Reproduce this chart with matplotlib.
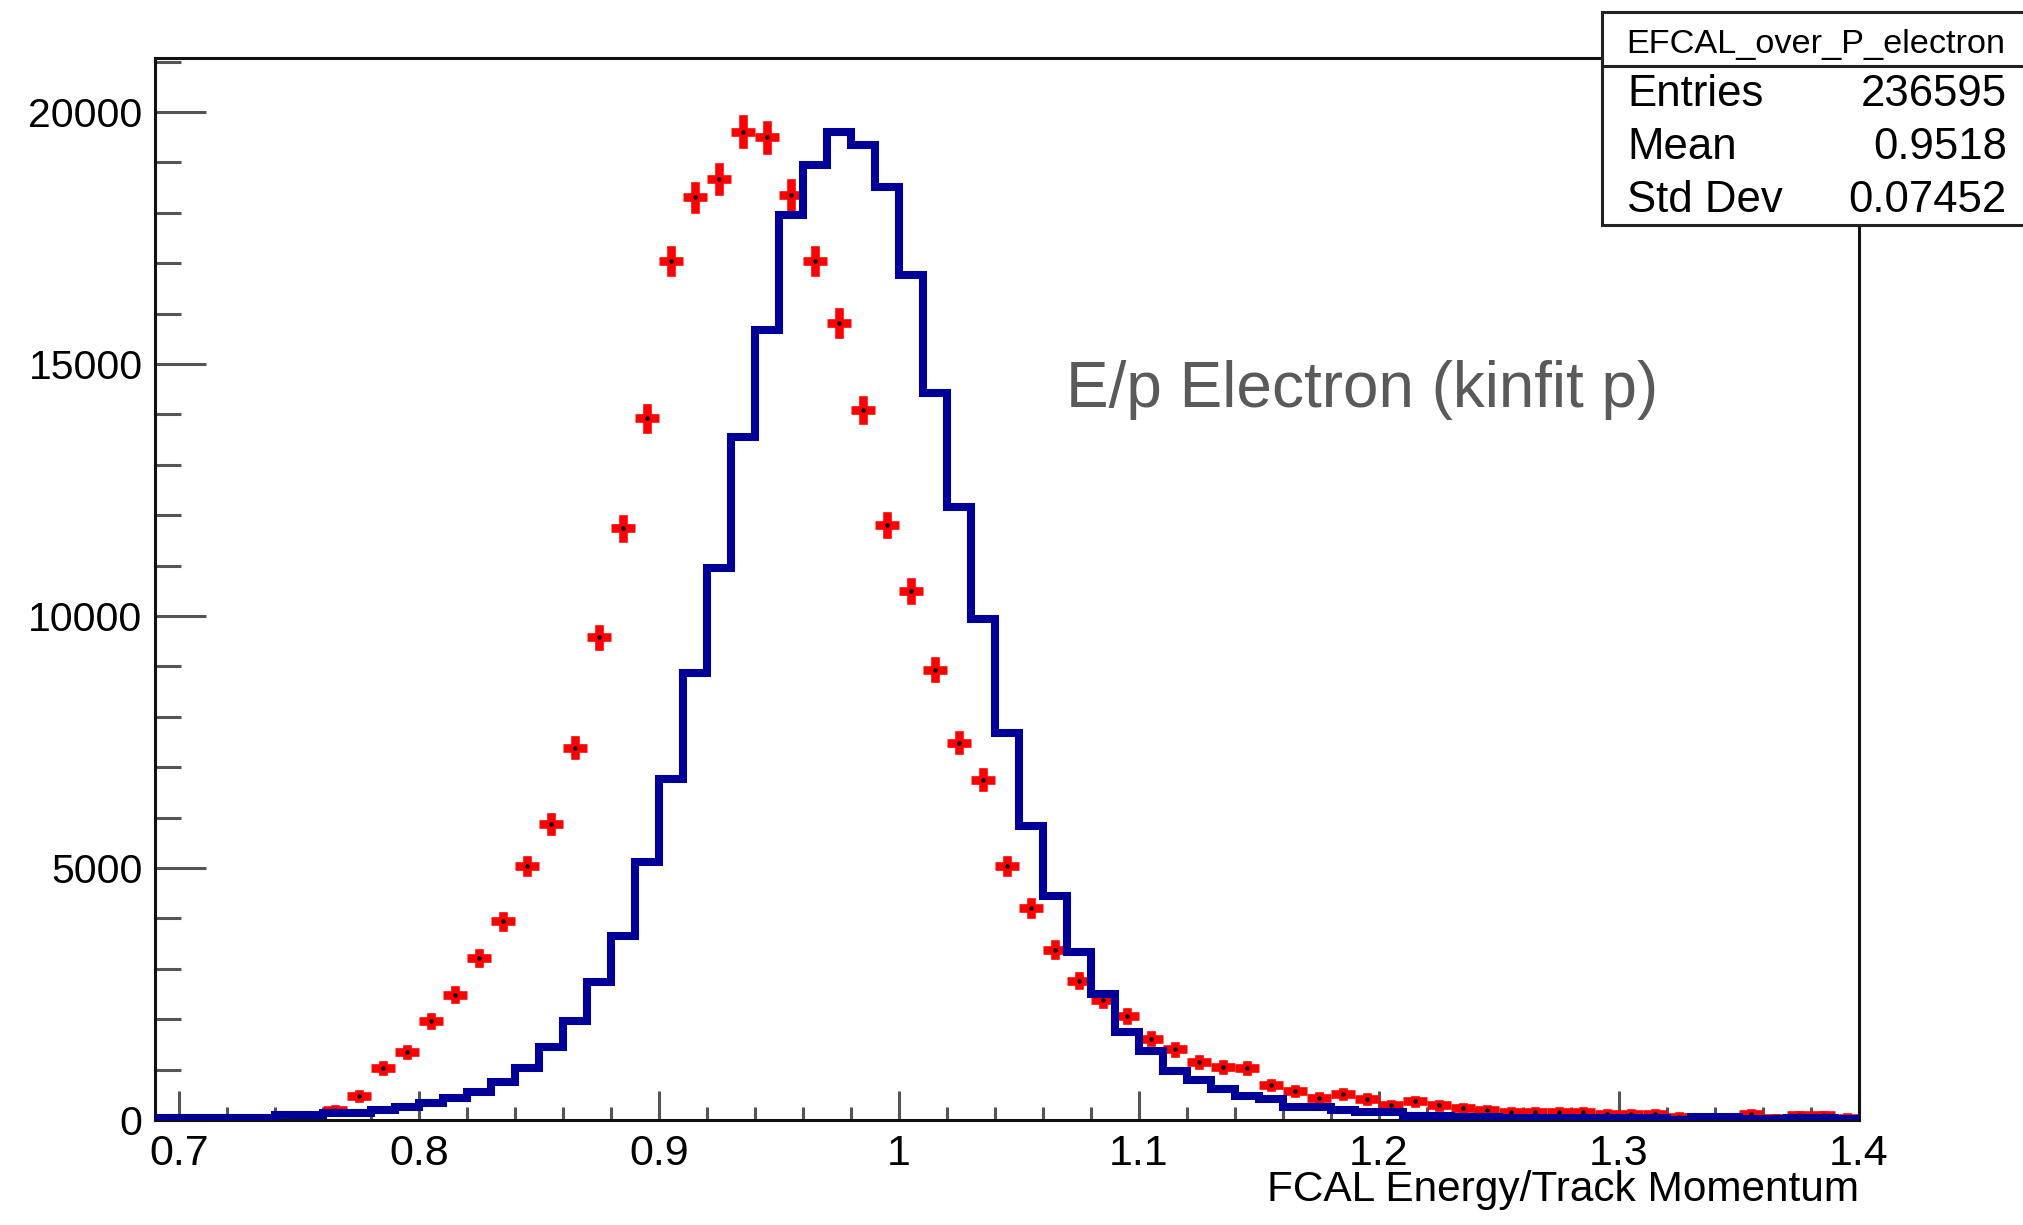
import matplotlib

matplotlib.use("Agg")
import matplotlib.pyplot as plt
import numpy as np
from matplotlib.patches import Rectangle
from matplotlib.ticker import FuncFormatter, MultipleLocator

plt.rcParams["font.family"] = ["Liberation Sans", "DejaVu Sans"]

# binning of both histograms: 0.01 wide bins from 0.69 to 1.40
BIN_LO = 0.69
BIN_W = 0.01

# blue histogram (drawn as steps), one value per bin
blue_counts = [
    30, 30, 30, 30, 30, 90, 90, 140, 145, 198,
    264, 330, 430, 565, 755, 1030, 1450, 1956, 2736, 3642,
    5109, 6774, 8864, 10950, 13557, 15674, 17955, 18947, 19608, 19344,
    18517, 16765, 14418, 12170, 9948, 7674, 5831, 4436, 3337, 2498,
    1754, 1360, 980, 790, 610, 470, 425, 255, 250, 198,
    165, 150, 80, 79, 66, 53, 35, 35, 33, 33,
    30, 30, 30, 5, 50, 50, 10, 10, 30, 30,
    20,
]

# red points with error bars, one value per bin (0 = empty bin)
red_counts = [
    0, 0, 0, 0, 0, 20, 80, 195, 475, 1036,
    1345, 1970, 2488, 3216, 3940, 5039, 5875, 7390, 9573, 11739,
    13922, 17043, 18306, 18669, 19608, 19495, 18352, 17043, 15806, 14086,
    11805, 10495, 8936, 7483, 6755, 5035, 4205, 3382, 2764, 2381,
    2067, 1616, 1404, 1157, 1055, 1035, 694, 576, 432, 522,
    415, 290, 370, 290, 235, 190, 165, 165, 165, 165,
    119, 119, 119, 60, 50, 50, 119, 30, 90, 90,
    40,
]
red_scale = 3.0  # red histogram was rescaled, errors are sqrt(scale * N)

stats_title = "EFCAL_over_P_electron"
stats_rows = [("Entries", "236595"), ("Mean", "0.9518"), ("Std Dev", "0.07452")]
plot_label = "E/p Electron (kinfit p)"
x_title = "FCAL Energy/Track Momentum"

W, H = 2024, 1225
fig = plt.figure(figsize=(W / 100, H / 100), dpi=100)
ax = fig.add_axes([155 / W, 1 - 1120 / H, (1859 - 155) / W, (1120 - 58) / H])

blue = np.array(blue_counts, dtype=float)
red = np.array(red_counts, dtype=float)
edges = np.round(BIN_LO + BIN_W * np.arange(len(blue) + 1), 3)
centers = 0.5 * (edges[:-1] + edges[1:])

ax.stairs(blue, edges, color="#000099", linewidth=5.8, zorder=3)

keep = red > 0
eb = ax.errorbar(
    centers[keep], red[keep],
    xerr=BIN_W / 2, yerr=np.sqrt(red_scale * red[keep]),
    fmt="o", ms=2.2, mfc="black", mec="black",
    ecolor="#ff0000", elinewidth=6.2, capsize=0, zorder=2,
)
xbars, ybars = eb[2]
xbars.set_capstyle("butt")
ybars.set_capstyle("projecting")

ax.set_xlim(BIN_LO, 1.4)
ax.set_ylim(0, 21070)
ax.xaxis.set_major_locator(MultipleLocator(0.1))
ax.xaxis.set_minor_locator(MultipleLocator(0.02))
ax.yaxis.set_major_locator(MultipleLocator(5000))
ax.yaxis.set_minor_locator(MultipleLocator(1000))
ax.xaxis.set_major_formatter(FuncFormatter(lambda v, p: f"{v:g}"))

ax.tick_params(axis="x", which="major", direction="in", length=21, width=2.2,
               color="#555555", labelsize=31, pad=10)
ax.tick_params(axis="x", which="minor", direction="in", length=9.5, width=2.2,
               color="#555555")
ax.tick_params(axis="y", which="major", direction="in", length=37, width=2.2,
               color="#555555", labelsize=29.5, pad=9)
ax.tick_params(axis="y", which="minor", direction="in", length=19, width=2.2,
               color="#555555")
for s in ax.spines.values():
    s.set_linewidth(2.2)
    s.set_color("#111111")

fig.text(0.673, 1 - 390 / H, plot_label, fontsize=46,
         color="#5a5a5a", ha="center", va="center")
fig.text(1859 / W, 1 - 1190 / H, x_title, fontsize=30.5, ha="right", va="center")

# stats box in the top right corner, cut by the figure edge
box_l, box_t, box_b = 1602 / W, 1 - 12 / H, 1 - 225 / H
fig.add_artist(Rectangle((box_l, box_b), 0.4, box_t - box_b, transform=fig.transFigure,
                         facecolor="white", edgecolor="#222222", linewidth=2.2, zorder=5))
sep_y = 1 - 66 / H
fig.add_artist(plt.Line2D([box_l, 1.0], [sep_y, sep_y], transform=fig.transFigure,
                          color="#222222", linewidth=2.2, zorder=6))
fig.text(1816 / W, 1 - 45 / H, stats_title, fontsize=24.7, ha="center", va="center", zorder=7)
for i, (name, val) in enumerate(stats_rows):
    y = 1 - (95 + 52.5 * i) / H
    fig.text(1627 / W, y, name, fontsize=31.5, ha="left", va="center", zorder=7)
    fig.text(2007 / W, y, val, fontsize=31.5, ha="right", va="center", zorder=7)

fig.savefig("out.png", dpi=100)
